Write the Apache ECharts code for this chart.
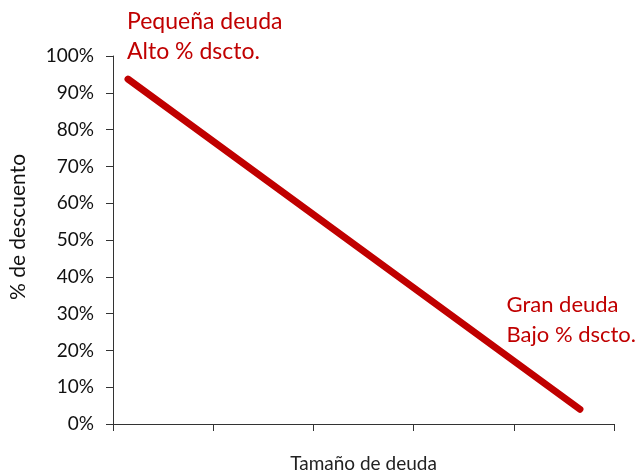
<!DOCTYPE html>
<html>
<head>
<meta charset="utf-8">
<script src="https://cdn.jsdelivr.net/npm/echarts@6/dist/echarts.min.js"></script>
<style>
  html, body { margin: 0; padding: 0; background: #fff; }
  #chart { width: 638px; height: 470px; }
</style>
</head>
<body>
<div id="chart"></div>
<script>
// datos
const debtSize = [0.15, 4.66]
const discount = [0.937, 0.04]
const yTicks = [0, 0.1, 0.2, 0.3, 0.4, 0.5, 0.6, 0.7, 0.8, 0.9, 1]
const labelsTop = ['Pequeña deuda', 'Alto % dscto.']
const labelsBottom = ['Gran deuda', 'Bajo % dscto.']

const red = '#c00000'
const font = 'Lato, "Open Sans", sans-serif'

const chart = echarts.init(document.getElementById('chart'))

const option = {
  animation: false,
  grid: { left: 113, right: 24, top: 56, bottom: 46, outerBoundsMode: 'none' },
  xAxis: {
    type: 'value',
    min: 0,
    max: 5,
    interval: 1,
    name: 'Tamaño de deuda',
    nameLocation: 'middle',
    nameGap: 30,
    nameTextStyle: { fontFamily: font, fontSize: 19, color: '#222' },
    axisLine: { show: true, lineStyle: { color: '#333', width: 1 } },
    axisTick: { show: true, length: 7, lineStyle: { color: '#333' } },
    axisLabel: { show: false },
    splitLine: { show: false }
  },
  yAxis: {
    type: 'value',
    min: yTicks[0],
    max: yTicks[yTicks.length - 1],
    interval: 0.1,
    name: '% de descuento',
    nameLocation: 'middle',
    nameGap: 84,
    nameTextStyle: { fontFamily: font, fontSize: 21, color: '#111', padding: [0, 0, 0, 26] },
    axisLine: { show: true, lineStyle: { color: '#333', width: 1 } },
    axisTick: { show: true, length: 7, lineStyle: { color: '#333' } },
    axisLabel: {
      fontFamily: font,
      fontSize: 19,
      color: '#111',
      margin: 19,
      formatter: v => Math.round(v * 100) + '%'
    },
    splitLine: { show: false }
  },
  series: [
    {
      type: 'line',
      data: debtSize.map((x, i) => [x, discount[i]]),
      showSymbol: false,
      lineStyle: { color: red, width: 7, cap: 'round' }
    }
  ],
  graphic: [
    {
      type: 'text',
      left: 127,
      top: 7,
      style: {
        text: labelsTop.join('\n'),
        fill: red,
        font: '23px ' + font,
        lineHeight: 30
      }
    },
    {
      type: 'text',
      right: 2,
      top: 290,
      style: {
        text: labelsBottom.join('\n'),
        fill: red,
        font: '22px ' + font,
        lineHeight: 30,
        align: 'right'
      }
    }
  ]
}

chart.setOption(option)
</script>
</body>
</html>
